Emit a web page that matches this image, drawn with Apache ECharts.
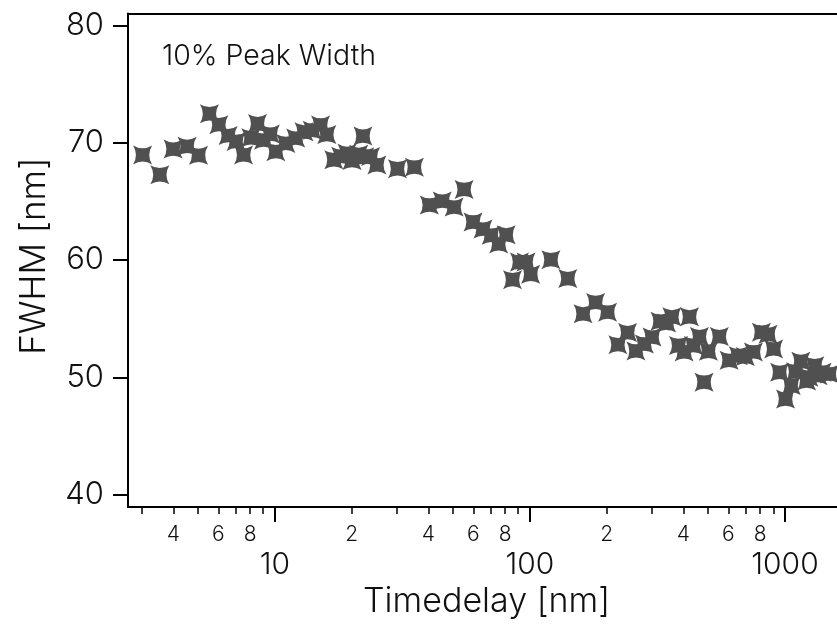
<!DOCTYPE html>
<html>
<head>
<meta charset="utf-8">
<script src="https://cdn.jsdelivr.net/npm/echarts@6/dist/echarts.min.js"></script>
<style>
html,body{margin:0;padding:0;background:#fff;}
#chart{width:837px;height:624px;}
</style>
</head>
<body>
<div id="chart"></div>
<script>
// ---- data ----
const timedelay = [3.03,3.54,3.99,4.53,5.02,5.54,6.03,6.56,7.05,7.54,8.06,8.55,9.03,9.60,10.09,11.04,12.07,13.01,14.01,15.11,15.99,17.03,18.13,19.19,20.07,21.32,22.15,22.49,23.74,25.12,30.25,35.24,40.32,45.31,50.46,55.20,59.84,65.46,70.52,75.42,80.70,85.47,91.00,96.57,100.7,120.9,140.8,161.6,181.0,201.6,221.3,241.6,260.4,281.0,301.2,323.6,343.6,360.3,422.4,382.6,402.4,437.8,462.0,481.6,501.0,552.9,603.9,656.0,698.9,752.2,808.3,858.4,902.8,952.8,1005,1058,1100,1154,1216,1241,1309,1349,1398,1493];
const fwhm = [68.96,67.27,69.46,69.69,68.93,72.47,71.54,70.61,70.11,68.96,70.42,71.63,70.22,70.74,69.24,69.94,70.40,70.93,71.06,71.52,70.70,68.55,68.85,69.10,68.48,69.01,70.57,68.80,68.82,68.11,67.78,67.92,64.69,65.03,64.51,66.02,63.24,62.64,62.11,61.37,62.15,58.32,59.83,59.83,58.78,60.03,58.42,55.41,56.38,55.55,52.78,53.81,52.25,52.84,53.43,54.78,54.63,55.16,55.16,52.71,52.16,52.71,53.47,49.58,52.22,53.47,51.45,51.83,51.77,52.16,53.85,53.66,52.42,50.42,48.15,49.30,50.48,51.36,49.68,50.0,50.99,50.14,50.42,50.29];
const xMajorTicks = [10, 100, 1000];
const xMinorTicks = [3,4,5,6,7,8,9,20,30,40,50,60,70,80,90,200,300,400,500,600,700,800,900];
const xMinorLabels = [4,6,8,20,40,60,80,200,400,600,800];
const yTicks = [40, 50, 60, 70, 80];
const annotation = '10% Peak Width';
const xTitle = 'Timedelay [nm]';
const yTitle = 'FWHM [nm]';

const FONT = "Inter, 'Liberation Sans', Helvetica, Arial, sans-serif";
const FW = 300;
const TXT = '#111';
const X_MIN = 2.656, X_MAX = 1599.6, Y_MIN = 38.94, Y_MAX = 81.02;

const chart = echarts.init(document.getElementById('chart'), null, {renderer: 'canvas'});
const starPath = 'path://M0,0 Q10,6 20,0 Q14,10 20,20 Q10,14 0,20 Q6,10 0,0 Z';

const option = {
  animation: false,
  backgroundColor: '#fff',
  title: {
    text: annotation, left: 162, top: 42, padding: 0,
    textStyle: {fontFamily: FONT, fontSize: 28.5, fontWeight: FW, color: TXT}
  },
  grid: {left: 128, top: 13.5, right: -4, bottom: 111, containLabel: false},
  xAxis: [
    {
      type: 'log', logBase: 10, min: X_MIN, max: X_MAX, position: 'bottom',
      name: xTitle, nameLocation: 'middle', nameGap: 78,
      nameTextStyle: {fontFamily: FONT, fontSize: 34, fontWeight: FW, color: TXT, padding: [0, 0, 0, 8]},
      axisLine: {show: true, lineStyle: {color: '#000', width: 2}},
      axisTick: {show: true, length: 15, lineStyle: {color: '#000', width: 2}, customValues: xMajorTicks},
      axisLabel: {show: true, customValues: xMajorTicks, margin: 43, fontFamily: FONT, fontSize: 30, fontWeight: FW, color: TXT,
        formatter: v => String(Math.round(v))},
      splitLine: {show: false}, minorTick: {show: false}
    },
    {
      type: 'log', logBase: 10, min: X_MIN, max: X_MAX, position: 'bottom',
      axisLine: {show: false},
      axisTick: {show: true, length: 7, lineStyle: {color: '#000', width: 1.5}, customValues: xMinorTicks},
      axisLabel: {show: true, customValues: xMinorLabels, margin: 17, fontFamily: FONT, fontSize: 21, fontWeight: FW, color: TXT,
        formatter: v => String(Math.round(v / Math.pow(10, Math.floor(Math.log10(v) + 1e-9))))},
      splitLine: {show: false}
    },
    {
      type: 'log', logBase: 10, min: X_MIN, max: X_MAX, position: 'top',
      axisLine: {show: true, lineStyle: {color: '#000', width: 2}},
      axisTick: {show: false}, axisLabel: {show: false}, splitLine: {show: false}
    }
  ],
  yAxis: {
    type: 'value', min: Y_MIN, max: Y_MAX, position: 'left',
    name: yTitle, nameLocation: 'middle', nameGap: 76, nameRotate: 90,
    nameTextStyle: {fontFamily: FONT, fontSize: 35, fontWeight: FW, color: TXT, padding: [0, 0, 0, 8]},
    axisLine: {show: true, lineStyle: {color: '#000', width: 2}},
    axisTick: {show: true, length: 15, lineStyle: {color: '#000', width: 2}, customValues: yTicks},
    axisLabel: {show: true, customValues: yTicks, margin: 24, fontFamily: FONT, fontSize: 31, fontWeight: FW, color: TXT,
      formatter: v => String(Math.round(v))},
    splitLine: {show: false}
  },
  series: [{
    type: 'scatter', xAxisIndex: 0, yAxisIndex: 0,
    symbol: starPath, symbolSize: 19,
    itemStyle: {color: '#505050', opacity: 1},
    data: timedelay.map((t, i) => [t, fwhm[i]])
  }]
};
chart.setOption(option);
</script>
</body>
</html>
